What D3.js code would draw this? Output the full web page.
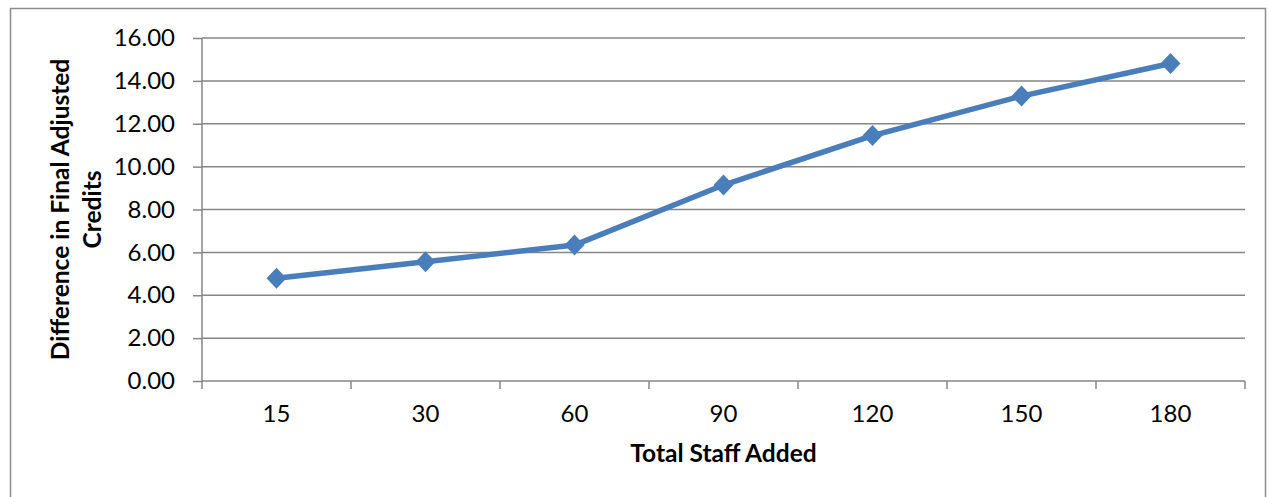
<!DOCTYPE html>
<html>
<head>
<meta charset="utf-8">
<script src="https://cdn.jsdelivr.net/npm/d3@7"></script>
<style>
  html, body { margin: 0; padding: 0; background: #fff; }
  svg { display: block; font-family: Lato, "Open Sans", sans-serif; }
</style>
</head>
<body>
<svg id="chart" width="1270" height="497"></svg>
<script>
// Staff added vs. difference in final adjusted credits
const categories = ["15", "30", "60", "90", "120", "150", "180"];
const creditDiff = [4.79, 5.56, 6.34, 9.14, 11.45, 13.29, 14.81];
const yTicks = [0, 2, 4, 6, 8, 10, 12, 14, 16];

const W = 1270, H = 497;
const plot = { left: 202, right: 1245, top: 38, bottom: 381 };
const lineColor = "#4a7ebb";
const gridColor = "#868686";
const tickFont = 24;
const titleFont = 24.5;

const svg = d3.select("#chart");

// outer chart frame
svg.append("rect")
  .attr("x", 10.5).attr("y", 8.5)
  .attr("width", W - 15).attr("height", H + 10)
  .attr("fill", "#fff").attr("stroke", "#8c8c8c").attr("stroke-width", 1.5);

const x = d3.scaleBand().domain(categories).range([plot.left, plot.right]).padding(0);
const y = d3.scaleLinear().domain([0, 16]).range([plot.bottom, plot.top]);

// horizontal gridlines
svg.append("g")
  .selectAll("line")
  .data(yTicks.filter(d => d > 0))
  .join("line")
  .attr("x1", plot.left).attr("x2", plot.right)
  .attr("y1", d => y(d)).attr("y2", d => y(d))
  .attr("stroke", gridColor).attr("stroke-width", 1.5);

// y axis
const yAxis = svg.append("g")
  .attr("transform", `translate(${plot.left},0)`)
  .call(d3.axisLeft(y).tickValues(yTicks).tickFormat(d3.format(".2f")).tickSize(9).tickPadding(18));
yAxis.select(".domain").attr("stroke", gridColor).attr("stroke-width", 1.5).attr("d", `M0,${plot.top}V${plot.bottom}`);
yAxis.selectAll(".tick line").attr("stroke", gridColor).attr("stroke-width", 1.5);
yAxis.selectAll(".tick text")
  .attr("font-size", tickFont).attr("fill", "#000")
  .attr("font-family", "Lato, 'Open Sans', sans-serif");

// x axis with ticks on category boundaries
const xAxisG = svg.append("g").attr("transform", `translate(0,${plot.bottom})`);
xAxisG.append("line")
  .attr("x1", plot.left).attr("x2", plot.right)
  .attr("y1", 0).attr("y2", 0)
  .attr("stroke", gridColor).attr("stroke-width", 1.5);
const boundaries = categories.map(c => x(c)).concat([x(categories[categories.length - 1]) + x.bandwidth()]);
xAxisG.selectAll("line.tk")
  .data(boundaries)
  .join("line").attr("class", "tk")
  .attr("x1", d => d).attr("x2", d => d)
  .attr("y1", 0).attr("y2", 8)
  .attr("stroke", gridColor).attr("stroke-width", 1.5);
xAxisG.selectAll("text")
  .data(categories)
  .join("text")
  .attr("x", d => x(d) + x.bandwidth() / 2)
  .attr("y", 41)
  .attr("text-anchor", "middle")
  .attr("font-size", tickFont).attr("fill", "#000")
  .text(d => d);

// series line
const pts = categories.map((c, i) => [x(c) + x.bandwidth() / 2, y(creditDiff[i])]);
svg.append("path")
  .attr("d", d3.line()(pts))
  .attr("fill", "none")
  .attr("stroke", lineColor)
  .attr("stroke-width", 5.5)
  .attr("stroke-linejoin", "round");

// diamond markers
svg.append("g")
  .selectAll("path")
  .data(pts)
  .join("path")
  .attr("transform", d => `translate(${d[0]},${d[1]})`)
  .attr("d", "M0,-10.5L10,0L0,10.5L-10,0Z")
  .attr("fill", lineColor);

// axis titles
svg.append("text")
  .attr("x", (plot.left + plot.right) / 2)
  .attr("y", 462)
  .attr("text-anchor", "middle")
  .attr("font-size", titleFont).attr("font-weight", "bold").attr("fill", "#000")
  .text("Total Staff Added");

const yTitle = svg.append("text")
  .attr("transform", `translate(0,${(plot.top + plot.bottom) / 2}) rotate(-90)`)
  .attr("text-anchor", "middle")
  .attr("font-size", titleFont).attr("font-weight", "bold").attr("fill", "#000");
yTitle.append("tspan").attr("x", 0).attr("y", 68.5).text("Difference in Final Adjusted");
yTitle.append("tspan").attr("x", 0).attr("y", 100.5).text("Credits");
</script>
</body>
</html>
